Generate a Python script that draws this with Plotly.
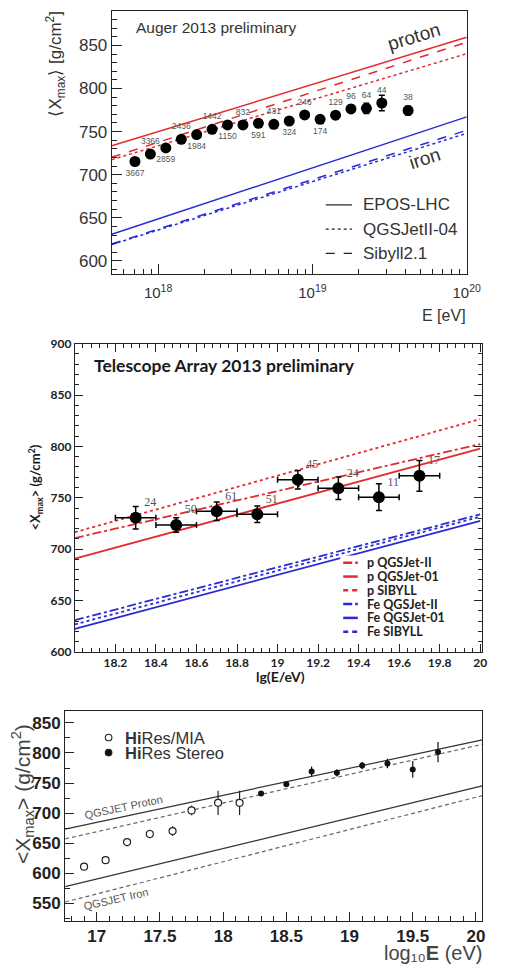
import plotly.graph_objects as go

W, H = 505, 968
def px(x): return x / W
def py(y): return 1 - y / H

RED = '#e42a2e'
BLUE = '#2a2ad6'

# ---------------- Panel 1: Auger ----------------
auger_E = [7.08e17, 8.91e17, 1.122e18, 1.413e18, 1.778e18, 2.239e18, 2.818e18, 3.548e18, 4.467e18,
           5.623e18, 7.079e18, 8.913e18, 1.122e19, 1.413e19, 1.778e19, 2.239e19, 2.818e19, 4.17e19]
auger_xmax = [715.3, 724.0, 731.0, 741.0, 746.6, 752.7, 757.7, 757.7, 759.6,
              758.5, 762.3, 769.4, 764.2, 769.1, 776.3, 777.0, 783.2, 774.5]
auger_err = [2, 2, 2, 2, 2, 2, 2, 2, 2, 2, 3, 3, 4, 4, 4, 6, 9, 5]
auger_counts = ['3667', '3366', '2859', '2436', '1984', '1442', '1150', '832', '591',
                '431', '324', '246', '174', '129', '96', '64', '44', '38']
auger_labelpos = ['bottom center', 'top center', 'bottom center', 'top center', 'bottom center',
                  'top center', 'bottom center', 'top center', 'bottom center', 'top center',
                  'bottom center', 'top center', 'bottom center', 'top center', 'top center',
                  'top center', 'top center', 'top center']
auger_line_E = [5.012e17, 1.0e20]
auger_models = [
    ('p EPOS-LHC', [733.6, 859.5], RED, 'solid'),
    ('p Sibyll2.1', [720.2, 853.8], RED, 'dash'),
    ('p QGSJetII-04', [717.5, 840.4], RED, 'dot'),
    ('Fe EPOS-LHC', [630.9, 767.1], BLUE, 'solid'),
    ('Fe Sibyll2.1', [619.7, 751.6], BLUE, 'dash'),
    ('Fe QGSJetII-04', [619.0, 748.0], BLUE, 'dot'),
]
auger_legend_names = ['EPOS-LHC', 'QGSJetII-04', 'Sibyll2.1']
auger_legend_dash = ['solid', 'dot', 'dash']
auger_major_ticks = [1e18, 1e19, 1e20]
auger_major_text = ['10<sup>18</sup>', '10<sup>19</sup>', '10<sup>20</sup>']
auger_minor_ticks = [6e17, 7e17, 8e17, 9e17,
                     2e18, 3e18, 4e18, 5e18, 6e18, 7e18, 8e18, 9e18,
                     2e19, 3e19, 4e19, 5e19, 6e19, 7e19, 8e19, 9e19]

# ---------------- Panel 2: Telescope Array ----------------
ta_lgE = [18.3, 18.5, 18.7, 18.9, 19.1, 19.3, 19.5, 19.7]
ta_xmax = [730.5, 723.5, 736.9, 734.0, 767.6, 759.3, 750.6, 771.4]
ta_err = [11, 7, 9, 8, 9, 11, 13, 15]
ta_xerr = [0.1, 0.1, 0.1, 0.1, 0.1, 0.1, 0.1, 0.1]
ta_counts = ['24', '50', '61', '51', '45', '24', '11', '17']
ta_line_lgE = [18.0, 20.0]
ta_models = [
    ('p QGSJet-II', [710.8, 802.3], RED, 'dashdot'),
    ('p QGSJet-01', [690.7, 797.9], RED, 'solid'),
    ('p SIBYLL', [716.5, 826.6], RED, '3px,3px'),
    ('Fe QGSJet-II', [630.9, 733.8], BLUE, 'dashdot'),
    ('Fe QGSJet-01', [622.3, 727.6], BLUE, 'solid'),
    ('Fe SIBYLL', [626.8, 731.5], BLUE, '3px,3px'),
]
ta_legend_dash = ['dashdot', 'solid', '5px,4px', 'dashdot', 'solid', '5px,4px']
ta_xticks = [18.2, 18.4, 18.6, 18.8, 19.0, 19.2, 19.4, 19.6, 19.8, 20.0]
ta_xticktext = ['18.2', '18.4', '18.6', '18.8', '19', '19.2', '19.4', '19.6', '19.8', '20']

# ---------------- Panel 3: HiRes ----------------
mia_lgE = [16.9, 17.07, 17.24, 17.42, 17.6, 17.75, 17.96, 18.13]
mia_xmax = [610.8, 621.6, 651.7, 665.2, 670.0, 704.5, 717.0, 717.0]
mia_err = [3, 4, 7, 7, 8, 8, 20, 20]
stereo_lgE = [18.3, 18.5, 18.7, 18.9, 19.1, 19.3, 19.5, 19.7]
stereo_xmax = [732.8, 748.0, 769.4, 767.0, 779.0, 782.5, 772.7, 801.5]
stereo_err = [3, 3, 8, 6, 6, 8, 14, 17]
hr_line_lgE = [16.75, 20.05]
hr_models = [
    ('QGSJET Proton', [673.4, 821.7], '#333333', 'solid'),
    ('QGSJET Proton (2)', [657.0, 814.5], '#666666', '4px,3px'),
    ('QGSJET Iron', [577.5, 745.4], '#333333', 'solid'),
    ('QGSJET Iron (2)', [552.0, 729.0], '#666666', '4px,3px'),
]

fig = go.Figure()

for name, vals, col, dash in auger_models:
    fig.add_trace(go.Scatter(x=auger_line_E, y=vals, mode='lines', name=name,
                             line=dict(color=col, dash=dash, width=1.5),
                             xaxis='x', yaxis='y', hoverinfo='skip'))
fig.add_trace(go.Scatter(x=auger_E, y=auger_xmax, mode='markers+text', name='Auger',
                         marker=dict(color='black', size=11),
                         error_y=dict(type='data', array=auger_err, color='black', thickness=1.3, width=3),
                         text=auger_counts, textposition=auger_labelpos,
                         textfont=dict(family='Liberation Sans', size=8.5, color='#555'),
                         xaxis='x', yaxis='y'))

for name, vals, col, dash in ta_models:
    fig.add_trace(go.Scatter(x=ta_line_lgE, y=vals, mode='lines', name=name,
                             line=dict(color=col, dash=dash, width=1.8),
                             xaxis='x2', yaxis='y2', hoverinfo='skip'))
fig.add_trace(go.Scatter(x=ta_lgE, y=ta_xmax, mode='markers+text', name='TA',
                         marker=dict(color='black', size=12),
                         error_y=dict(type='data', array=ta_err, color='black', thickness=1.5, width=3),
                         error_x=dict(type='data', array=ta_xerr, color='black', thickness=1.5, width=3),
                         text=ta_counts, textposition='top right',
                         textfont=dict(family='Liberation Serif', size=12, color='#555'),
                         xaxis='x2', yaxis='y2'))

for name, vals, col, dash in hr_models:
    fig.add_trace(go.Scatter(x=hr_line_lgE, y=vals, mode='lines', name=name,
                             line=dict(color=col, dash=dash, width=1.2),
                             xaxis='x3', yaxis='y3', hoverinfo='skip'))
fig.add_trace(go.Scatter(x=mia_lgE, y=mia_xmax, mode='markers', name='HiRes/MIA',
                         marker=dict(color='white', size=7, symbol='circle',
                                     line=dict(color='#222', width=1.2)),
                         error_y=dict(type='data', array=mia_err, color='#222', thickness=1.2, width=0),
                         xaxis='x3', yaxis='y3'))
fig.add_trace(go.Scatter(x=stereo_lgE, y=stereo_xmax, mode='markers', name='HiRes Stereo',
                         marker=dict(color='#111', size=6),
                         error_y=dict(type='data', array=stereo_err, color='#111', thickness=1.2, width=0),
                         xaxis='x3', yaxis='y3'))

frame = dict(showline=True, linecolor='#222', linewidth=1.2, showgrid=False, zeroline=False, ticks='inside',
             tickcolor='#222')

shapes = []
annotations = []

def ann(text, x, y, size, family='Liberation Sans', color='#333', xanchor='center', yanchor='middle',
        angle=0, weight='normal'):
    annotations.append(dict(text=text, x=px(x), y=py(y), xref='paper', yref='paper', showarrow=False,
                            xanchor=xanchor, yanchor=yanchor, textangle=angle,
                            font=dict(family=family, size=size, color=color, weight=weight)))

def hline(x0, x1, y, color, dash, width):
    shapes.append(dict(type='line', xref='paper', yref='paper', x0=px(x0), x1=px(x1), y0=py(y), y1=py(y),
                       line=dict(color=color, dash=dash, width=width), layer='above'))

# Auger annotations / legend
ann('Auger 2013 preliminary', 138, 20, 15.5, xanchor='left')
ann('proton', 426, 29, 19, angle=-17)
ann('iron', 437, 153, 19, angle=-18)
ann('⟨X<sub>max</sub>⟩ [g/cm<sup>2</sup>]', 57, 57, 17, angle=-90)
ann('E [eV]', 481, 312, 16, xanchor='right')
for i, (nm, ds) in enumerate(zip(auger_legend_names, auger_legend_dash)):
    yy = 200 + i * 24.6
    hline(335, 362, yy, '#222', ds, 1.2)
    ann(nm, 371, yy, 17, xanchor='left')

# TA annotations / legend
LATO = 'Lato'
ann('Telescope Array 2013 preliminary', 95, 363, 17.5, family=LATO, color='#1a1a1a', xanchor='left', weight='bold')
ann('&lt;X<sub>max</sub>&gt; (g/cm<sup>2</sup>)', 36, 487, 13, family=LATO, color='#1a1a1a', angle=-90, weight='bold')
ann('lg(E/eV)', 288, 679, 14, family=LATO, color='#1a1a1a', weight='bold')
shapes.append(dict(type='rect', xref='paper', yref='paper', x0=px(350), x1=px(462), y0=py(642), y1=py(556),
                   fillcolor='white', line=dict(width=0), layer='above'))
for i, (nm, vals, col, ds) in enumerate(ta_models):
    yy = 563.5 + i * 14
    hline(353, 368, yy, col, ta_legend_dash[i], 2.5)
    ann(nm, 375, yy, 12.5, family=LATO, color='#222', xanchor='left', weight='bold')

# HiRes annotations / legend
ann('QGSJET Proton', 127, 812, 11, color='#555', angle=-12)
ann('QGSJET Iron', 119, 905, 11, color='#555', angle=-13)
ann('&lt;X<sub>max</sub>&gt; (g/cm<sup>2</sup>)', 23, 798, 21, color='#444', angle=-90)
ann('log₁₀<b>E</b> (eV)', 498, 947, 20, color='#444', xanchor='right', yanchor='top')
hr_legend = [('<b>Hi</b>Res/MIA', 'white'), ('<b>Hi</b>Res Stereo', '#111')]
for i, (nm, fillc) in enumerate(hr_legend):
    yy = 741 + i * 15.3
    shapes.append(dict(type='circle', xref='paper', yref='paper', xsizemode='pixel', ysizemode='pixel',
                       xanchor=px(111.7), yanchor=py(yy), x0=-3.3, x1=3.3, y0=-3.3, y1=3.3,
                       fillcolor=fillc, line=dict(color='#222', width=1.1), layer='above'))
    ann(nm, 126, yy, 16.5, color='#333', xanchor='left')

fig.update_layout(
    width=W, height=H, margin=dict(l=0, r=0, t=0, b=0),
    paper_bgcolor='white', plot_bgcolor='white', showlegend=False,
    xaxis=dict(**frame, type='log', range=[17.7, 20], domain=[px(115), px(480)], anchor='y',
               tickvals=auger_major_ticks, ticktext=auger_major_text, ticklen=10, mirror=True,
               tickfont=dict(family='Liberation Sans', size=15, color='#333'), ticklabelstandoff=5,
               minor=dict(ticks='inside', ticklen=5, tickvals=auger_minor_ticks, tickcolor='#222')),
    yaxis=dict(**frame, range=[585, 890], domain=[py(270), py(3)], anchor='x',
               dtick=50, tick0=600, ticklen=10, mirror=True,
               tickfont=dict(family='Liberation Sans', size=17, color='#333'),
               minor=dict(ticks='inside', ticklen=5, dtick=10, tickcolor='#222')),
    xaxis2=dict(**frame, range=[18.0, 20.01], domain=[px(77), px(496)], anchor='y2',
                tickvals=ta_xticks, ticktext=ta_xticktext, ticklen=8, mirror='ticks',
                tickfont=dict(family=LATO, size=12, color='#222', weight='bold'),
                minor=dict(ticks='inside', ticklen=4, dtick=0.04, tick0=18, tickcolor='#222')),
    yaxis2=dict(**frame, range=[600, 900], domain=[py(654), py(341)], anchor='x2',
                dtick=50, tick0=600, ticklen=8, mirror='ticks',
                tickfont=dict(family=LATO, size=12, color='#222', weight='bold'),
                minor=dict(ticks='inside', ticklen=4, dtick=10, tickcolor='#222')),
    xaxis3=dict(**frame, range=[16.75, 20.05], domain=[px(67), px(496)], anchor='y3',
                dtick=0.5, tick0=17, ticklen=9, mirror=True,
                tickfont=dict(family='Liberation Sans', size=17, color='#222', weight='bold'),
                minor=dict(ticks='inside', ticklen=5, dtick=0.1, tick0=17, tickcolor='#222')),
    yaxis3=dict(**frame, range=[521, 870], domain=[py(927), py(714)], anchor='x3',
                dtick=50, tick0=550, ticklen=9, mirror=True,
                tickfont=dict(family='Liberation Sans', size=17, color='#222', weight='bold'),
                minor=dict(ticks='inside', ticklen=5, dtick=25, tickcolor='#222')),
    shapes=shapes, annotations=annotations,
)

fig.write_html('out.html')
